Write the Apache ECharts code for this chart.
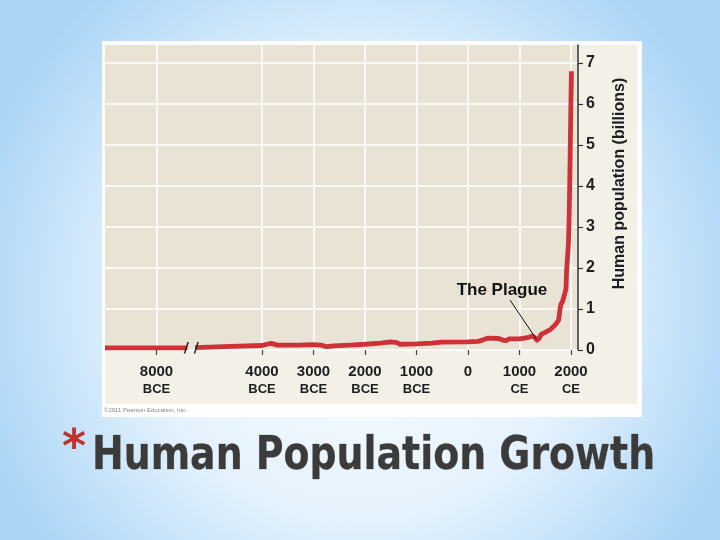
<!DOCTYPE html>
<html>
<head>
<meta charset="utf-8">
<script src="https://cdn.jsdelivr.net/npm/echarts@6/dist/echarts.min.js"></script>
<style>html,body{margin:0;padding:0;background:#fff}#chart{width:720px;height:540px}</style>
</head>
<body>
<div id="chart"></div>
<script>
// Years (negative = BCE) and population in billions
const years = [-9000,-8000,-7400,-6350,-5300,-4600,-4000,-3900,-3820,-3700,-3300,-3000,-2850,-2750,-2600,-2300,-2000,-1700,-1500,-1380,-1320,-1000,-700,-500,0,200,300,380,600,680,740,800,1000,1150,1250,1300,1340,1380,1420,1500,1600,1700,1760,1785,1800,1840,1880,1903,1915,1935,1950,1962,1972,1982,1992,2002,2009];
const population = [0.05,0.05,0.05,'-',0.06,0.09,0.11,0.14,0.16,0.12,0.12,0.13,0.12,0.08,0.10,0.12,0.14,0.17,0.20,0.18,0.14,0.15,0.17,0.19,0.20,0.21,0.25,0.29,0.28,0.24,0.23,0.27,0.27,0.30,0.34,0.30,0.24,0.28,0.38,0.43,0.50,0.62,0.73,0.98,1.10,1.20,1.38,1.50,1.95,2.30,2.60,3.10,3.80,4.60,5.50,6.30,6.80];
const xTickYears = [-8000,-4000,-3000,-2000,-1000,0,1000,2000];
const yTickValues = [0,1,2,3,4,5,6,7];
const axisBreak = {start: -7400, end: -5300, gap: 148};
const plaguePoint = [1330, 0.26];
const plagueLabelAt = [660, 1.46];
const plagueLineFrom = [815, 1.22];

const chart = echarts.init(document.getElementById('chart'), null, {renderer: 'canvas'});
const seriesData = years.map((y, i) => [y, population[i]]);

const option = {
  animation: false,
  backgroundColor: {
    type: 'radial', x: 0.5, y: 0.55, r: 0.75,
    colorStops: [{offset: 0, color: '#ffffff'}, {offset: 0.55, color: '#e4f2fd'}, {offset: 1, color: '#a9d4f6'}]
  },
  graphic: [
    {type: 'rect', z: -10, shape: {x: 102, y: 41, width: 540, height: 376}, style: {fill: '#fdfdfc'}},
    {type: 'rect', z: -9, shape: {x: 105, y: 45, width: 532, height: 359}, style: {fill: '#f3f0e8'}},
    {type: 'text', z: 5, x: 104, y: 407, style: {text: '\u00a92011 Pearson Education, Inc.', font: '6px "Liberation Sans"', fill: '#888'}},
    {type: 'text', z: 5, x: 62, y: 427, style: {text: '*', font: 'bold 46px "DejaVu Sans"', fill: '#c0322b'}},
    {type: 'text', z: 5, x: 92, y: 434, scaleX: 0.823, style: {
      text: 'Human Population Growth', font: 'bold 46px "DejaVu Sans"',
      fill: '#3b3b3b', stroke: '#8a8a8a', lineWidth: 0.5
    }}
  ],
  grid: {left: 105, right: 142, top: 45, bottom: 190, show: true, backgroundColor: '#e8e3d4', borderWidth: 0, outerBoundsMode: 'none'},
  xAxis: {
    type: 'value', min: -9000, max: 2136, interval: 1000,
    breaks: [axisBreak],
    breakArea: {show: false, itemStyle: {color: 'rgba(0,0,0,0)', borderColor: 'rgba(0,0,0,0)'}},
    axisLine: {show: false, onZero: false},
    axisTick: {show: true, customValues: xTickYears, length: 5, lineStyle: {color: '#444', width: 1.2}},
    splitLine: {show: true, lineStyle: {color: '#ffffff', width: 1.5}},
    axisLabel: {
      customValues: xTickYears, margin: 13,
      formatter: v => v < 0 ? '{n|' + (-v) + '}\n{e|BCE}' : (v === 0 ? '{n|0}\n{e| }' : '{n|' + v + '}\n{e|CE}'),
      rich: {
        n: {fontFamily: 'Liberation Sans', fontWeight: 'bold', fontSize: 15, color: '#1e1e1e', lineHeight: 18},
        e: {fontFamily: 'Liberation Sans', fontWeight: 'bold', fontSize: 13, color: '#1e1e1e', lineHeight: 17}
      }
    }
  },
  yAxis: {
    type: 'value', position: 'right', min: 0, max: 7.44, interval: 1,
    axisLine: {show: true, onZero: false, lineStyle: {color: '#333', width: 1.5}},
    axisTick: {show: true, customValues: yTickValues, length: 5, lineStyle: {color: '#333', width: 1.2}},
    splitLine: {show: true, lineStyle: {color: '#ffffff', width: 1.5}},
    axisLabel: {customValues: yTickValues, margin: 8, fontFamily: 'Liberation Sans', fontWeight: 'bold', fontSize: 16, color: '#1e1e1e'},
    name: 'Human population (billions)', nameLocation: 'middle', nameRotate: 90, nameGap: 34,
    nameTextStyle: {fontFamily: 'Liberation Sans', fontWeight: 'bold', fontSize: 16, color: '#1e1e1e', padding: [0, 0, 0, 28]}
  },
  series: [{
    type: 'line', data: seriesData, showSymbol: false, symbol: 'none', connectNulls: false,
    lineStyle: {color: '#cf3138', width: 4.8, cap: 'butt', join: 'round'},
    z: 3,
    markPoint: {
      silent: true, symbol: 'circle', symbolSize: 0,
      data: [
        {coord: plagueLabelAt, label: {show: true, position: 'inside', formatter: 'The Plague', fontFamily: 'Liberation Sans', fontWeight: 'bold', fontSize: 17, color: '#111'}},
        {coord: [(axisBreak.start + axisBreak.end) / 2, 0.05], label: {show: true, position: 'inside', formatter: '/ /', fontFamily: 'DejaVu Sans', fontWeight: 'bold', fontSize: 14, color: '#222'}}
      ]
    },
    markLine: {
      silent: true, symbol: ['none', 'none'], label: {show: false},
      lineStyle: {color: '#111', width: 1, type: 'solid'},
      data: [[{coord: plagueLineFrom}, {coord: plaguePoint}]]
    }
  }]
};
chart.setOption(option);
</script>
</body>
</html>
